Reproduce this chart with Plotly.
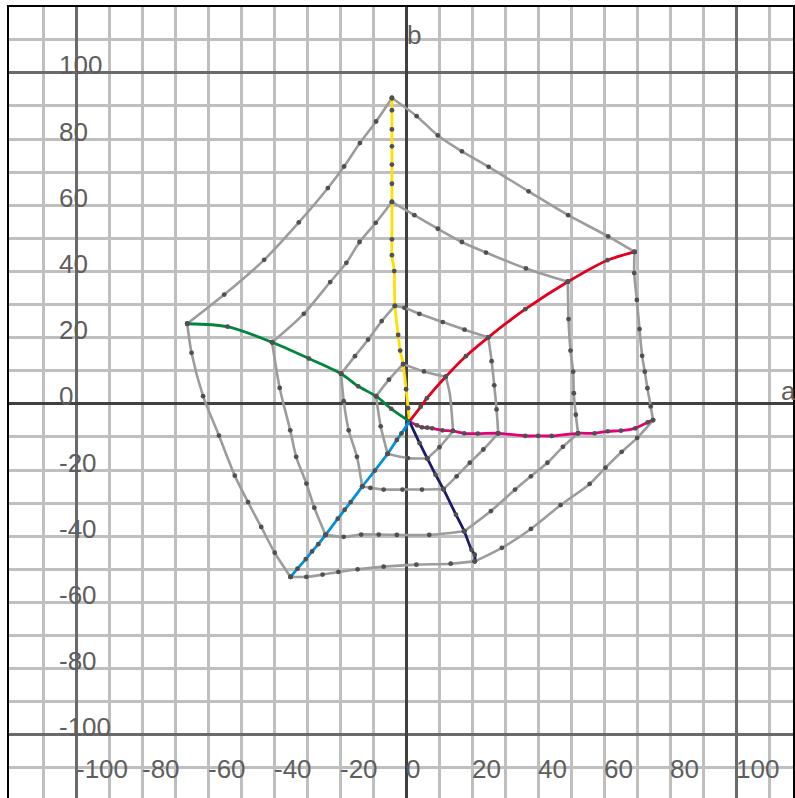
import plotly.graph_objects as go

# ---------------- data (a, b) ----------------
center = (1.0, -5.3)

# vertices of each hue on chroma loops 1..4
yellow_v = [(-0.9, 12.0), (-3.4, 29.6), (-4.3, 61.0), (-4.3, 92.4)]
red_v = [(12.0, 8.2), (24.9, 20.1), (49.0, 36.9), (69.2, 45.9)]
magenta_v = [(14.2, -8.2), (27.9, -8.9), (52.1, -8.9), (74.8, -4.9)]
blue_v = [(6.4, -16.5), (11.3, -25.8), (17.6, -38.5), (20.8, -47.6)]
cyan_v = [(-5.6, -15.1), (-13.3, -25.0), (-24.4, -39.6), (-35.0, -52.3)]
green_v = [(-9.1, 2.3), (-19.7, 9.1), (-40.6, 18.6), (-66.3, 24.2)]

# intermediate points along each hue line: centre->1, 1->2, 2->3, 3->4
yellow_mid = [[(0.6, -1.3), (0.0, 4.4)],
              [(-1.8, 16.1), (-2.4, 20.8)],
              [(-3.6, 40.1), (-4.3, 44.9), (-4.3, 49.7)],
              [(-4.3, 66.5), (-4.3, 72.3), (-4.3, 77.8), (-4.3, 82.9), (-4.3, 88.7)]]
red_mid = [[(4.4, -0.9), (6.3, 1.7)],
           [(18.1, 14.4)],
           [(36.1, 28.6)],
           [(61.0, 43.4)]]
magenta_mid = [[(3.3, -6.5), (4.8, -7.1), (6.4, -7.2), (7.9, -7.4), (11.0, -8.0)],
               [(17.6, -8.9), (21.7, -9.0)],
               [(36.1, -9.7), (40.0, -9.7), (44.1, -9.7)],
               [(57.1, -8.9), (61.1, -8.3), (65.1, -8.1), (69.4, -7.4), (73.2, -5.6)]]
blue_mid = [[(4.1, -11.9)],
            [(8.9, -21.4)],
            [(15.1, -33.5)],
            [(19.8, -44.1), (20.8, -45.6)]]
cyan_mid = [[(-1.4, -8.9), (-2.8, -10.9)],
            [(-9.5, -20.2)],
            [(-16.8, -29.7), (-18.6, -32.0), (-20.7, -34.7)],
            [(-26.6, -42.4), (-28.5, -44.6), (-30.4, -46.9), (-32.9, -49.8)]]
green_mid = [[(-4.5, -1.5)],
             [(-14.5, 5.3)],
             [(-29.5, 13.7)],
             [(-54.1, 23.3)]]

# intermediate points of the grey loops, segments Y-R, R-M, M-B, B-C, C-G, G-Y
loop1_mid = [[(5.4, 9.8)],
             [(13.2, 3.2), (13.9, -3.8)],
             [(10.1, -13.1)],
             [(0.5, -16.4)],
             [(-7.7, -6.8)],
             [(-5.2, 7.3)]]
loop2_mid = [[(-0.5, 29.0), (4.0, 27.2), (11.1, 24.7), (17.7, 22.4)],
             [(25.9, 12.9), (26.7, 5.6), (27.4, -1.7)],
             [(23.4, -13.8), (19.3, -17.8), (15.3, -21.9)],
             [(4.8, -25.9), (-1.1, -25.9), (-6.8, -25.9), (-10.8, -25.4)],
             [(-14.9, -16.0), (-17.4, -8.0), (-18.9, 0.8)],
             [(-15.5, 14.4), (-11.5, 19.4), (-7.4, 25.0)]]
loop3_mid = [[(2.5, 57.0), (9.6, 52.9), (16.9, 48.9), (24.2, 45.7), (36.3, 40.9)],
             [(49.2, 25.6), (49.8, 16.1), (50.6, 9.7), (50.8, 3.2), (51.4, -3.3)],
             [(47.5, -13.0), (42.8, -17.8), (37.8, -21.9), (33.0, -25.9), (25.7, -32.4)],
             [(7.0, -39.6), (-2.8, -39.6), (-8.3, -39.5), (-13.6, -39.5), (-18.9, -40.2)],
             [(-27.8, -31.4), (-30.2, -24.1), (-33.3, -16.0), (-35.1, -8.0), (-38.3, 4.8)],
             [(-31.0, 27.2), (-23.0, 36.8), (-18.1, 42.6), (-14.1, 48.9), (-9.2, 54.7)]]
loop4_mid = [[(3.2, 86.9), (9.6, 81.1), (16.9, 76.3), (25.0, 71.6), (37.1, 64.2), (49.1, 57.0), (61.2, 50.6)],
             [(69.1, 39.5), (69.9, 31.4), (70.7, 22.6), (71.5, 14.5), (72.3, 9.7), (73.1, 4.7), (74.1, -0.8)],
             [(70.0, -10.3), (65.3, -14.5), (60.4, -19.3), (55.6, -24.2), (46.8, -30.6), (37.8, -37.8), (29.0, -43.5)],
             [(13.5, -48.3), (3.1, -48.6), (-6.8, -49.2), (-14.7, -50.0), (-20.5, -50.8), (-25.3, -51.6), (-30.2, -52.3)],
             [(-39.8, -45.0), (-43.9, -37.2), (-47.9, -29.7), (-51.9, -21.7), (-56.7, -9.6), (-61.5, 2.3), (-65.0, 15.4)],
             [(-55.1, 33.0), (-43.0, 43.5), (-32.5, 54.8), (-23.7, 65.2), (-18.8, 71.7), (-14.0, 78.8), (-9.1, 85.3)]]

tick_values = [-100, -80, -60, -40, -20, 0, 20, 40, 60, 80, 100]
tick_labels = ["-100", "-80", "-60", "-40", "-20", "0", "20", "40", "60", "80", "100"]
axis_names = ["a", "b"]

# ---------------- styling ----------------
GRAY = "#9c9c9c"
DOT = "#505050"
TXT = "#5e5e5e"
FONT = "Liberation Sans, Arial, sans-serif"
hue_colors = ["#FFE000", "#E2001F", "#E2007A", "#1C1A6B", "#0090DD", "#00843E"]

verts = [yellow_v, red_v, magenta_v, blue_v, cyan_v, green_v]
mids = [yellow_mid, red_mid, magenta_mid, blue_mid, cyan_mid, green_mid]
loops = [loop1_mid, loop2_mid, loop3_mid, loop4_mid]

fig = go.Figure()
dot_pts = []

# grey chroma loops
for k, lm in enumerate(loops):
    for h in range(6):
        p0 = verts[h][k]
        p1 = verts[(h + 1) % 6][k]
        pts = [p0] + lm[h] + [p1]
        fig.add_trace(go.Scatter(
            x=[p[0] for p in pts], y=[p[1] for p in pts], mode="lines",
            line=dict(color=GRAY, width=2.6, shape="spline", smoothing=0.8),
            hoverinfo="skip", showlegend=False))
        if not (k == 0 and h == 1):
            dot_pts += pts

# coloured hue lines
for h in range(6):
    pts = [center]
    for k in range(4):
        pts += mids[h][k] + [verts[h][k]]
    fig.add_trace(go.Scatter(
        x=[p[0] for p in pts], y=[p[1] for p in pts], mode="lines",
        line=dict(color=hue_colors[h], width=2.8, shape="spline", smoothing=0.8),
        hoverinfo="skip", showlegend=False))
    dot_pts += pts[1:]

fig.add_trace(go.Scatter(
    x=[p[0] for p in dot_pts], y=[p[1] for p in dot_pts], mode="markers",
    marker=dict(color=DOT, size=4.8), hoverinfo="skip", showlegend=False))

# tick labels placed inside the plot like the original
ann = []
for v, t in zip(tick_values, tick_labels):
    ann.append(dict(x=v, y=-110.3, xref="x", yref="y", text=t, showarrow=False,
                    xanchor="left", yanchor="middle", xshift=-2,
                    font=dict(family=FONT, size=26, color=TXT)))
    ann.append(dict(x=-105.8, y=v, xref="x", yref="y", text=t, showarrow=False,
                    xanchor="left", yanchor="middle", yshift=7.5,
                    font=dict(family=FONT, size=26, color=TXT)))
ann.append(dict(x=113.0, y=3.8, xref="x", yref="y", text=axis_names[0], showarrow=False,
                xanchor="left", yanchor="middle", font=dict(family=FONT, size=26, color=TXT)))
ann.append(dict(x=-0.2, y=111.4, xref="x", yref="y", text=axis_names[1], showarrow=False,
                xanchor="left", yanchor="middle", font=dict(family=FONT, size=26, color=TXT)))

axis_common = dict(
    showticklabels=False, ticks="", dtick=100, tick0=0,
    showgrid=True, gridcolor="#6a6a6a", gridwidth=2.5,
    zeroline=True, zerolinecolor="#404040", zerolinewidth=2.5,
    showline=True, mirror=True, linecolor="#000000", linewidth=2,
    minor=dict(dtick=10, tick0=0, showgrid=True, gridcolor="#bfbfbf", gridwidth=2.6),
    fixedrange=True,
)
fig.update_layout(
    width=795, height=798,
    margin=dict(l=9, r=0, t=7, b=0, pad=0),
    paper_bgcolor="white", plot_bgcolor="white",
    xaxis=dict(range=[-120.3, 117.2], **axis_common),
    yaxis=dict(range=[-119.1, 119.9], **axis_common),
    annotations=ann,
    showlegend=False,
)
fig.write_html(
    "out.html",
    config={"displayModeBar": False},
    post_script="document.body.style.margin='0px';document.body.style.overflow='hidden';",
)
